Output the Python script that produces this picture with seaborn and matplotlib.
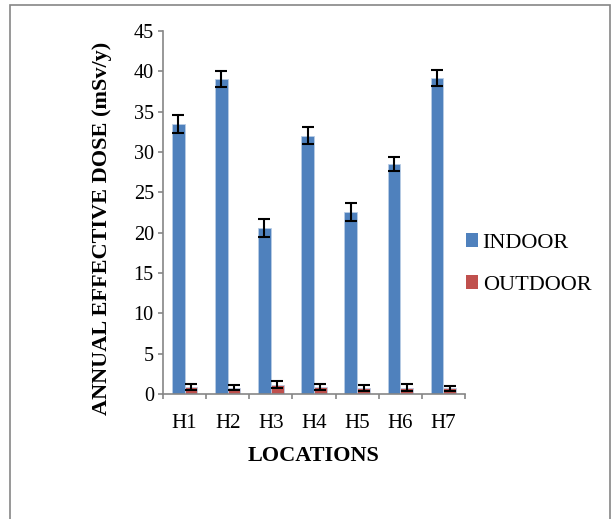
import matplotlib; matplotlib.use('Agg')
import pandas as pd
import numpy as np
import seaborn as sns
import matplotlib.pyplot as plt
from matplotlib.patches import Rectangle, Patch

# values
locations = ['H1', 'H2', 'H3', 'H4', 'H5', 'H6', 'H7']
indoor = [33.5, 39.0, 20.6, 32.0, 22.6, 28.5, 39.2]
indoor_err = [1.1, 1.0, 1.1, 1.05, 1.1, 0.9, 1.0]
outdoor = [0.85, 0.8, 1.15, 0.9, 0.75, 0.8, 0.7]
outdoor_err = [0.4, 0.35, 0.45, 0.4, 0.4, 0.4, 0.35]
series = ['INDOOR', 'OUTDOOR']
colors = ['#4F81BD', '#C0504D']

df = pd.DataFrame({
    'location': locations * 2,
    'dose': indoor + outdoor,
    'err': indoor_err + outdoor_err,
    'kind': ['INDOOR'] * len(locations) + ['OUTDOOR'] * len(locations),
})

sns.set_style('white')
plt.rcParams['font.family'] = ['Liberation Serif', 'DejaVu Serif']
plt.rcParams['text.color'] = 'black'
plt.rcParams['axes.labelcolor'] = 'black'
plt.rcParams['xtick.labelcolor'] = 'black'
plt.rcParams['ytick.labelcolor'] = 'black'

fig = plt.figure(figsize=(6.13, 5.19), dpi=100)
ax = fig.add_axes([163 / 613, 1 - 394 / 519, 302 / 613, 363 / 519])

sns.barplot(data=df, x='location', y='dose', hue='kind', order=locations,
            hue_order=series, palette=colors, width=0.59, gap=0,
            errorbar=None, saturation=1, legend=False, ax=ax,
            edgecolor='#B9CDE5', linewidth=0.6)

# error bars on top of each bar
for cont, kind in zip(ax.containers, series):
    sub = df[df['kind'] == kind]
    xs = [b.get_x() + b.get_width() / 2 for b in cont]
    ax.errorbar(xs, sub['dose'].values, yerr=sub['err'].values, fmt='none',
                ecolor='black', elinewidth=1.5, capsize=4.3, capthick=1.5, zorder=5)

ax.set_ylim(0, 45)
ax.set_yticks(np.arange(0, 46, 5))
ax.set_xlim(-0.5, len(locations) - 0.5)
ax.set_xticks(np.arange(-0.5, len(locations), 1), minor=True)

for s in ['top', 'right']:
    ax.spines[s].set_visible(False)
for s in ['left', 'bottom']:
    ax.spines[s].set_color('#868686')
    ax.spines[s].set_linewidth(1.2)

ax.tick_params(axis='y', which='major', direction='out', length=3.6, width=1.2,
               color='#868686', labelsize=14.5, pad=3, left=True)
ax.tick_params(axis='x', which='major', length=0, labelsize=15, pad=14.5)
ax.tick_params(axis='x', which='minor', direction='out', length=3.6, width=1.2,
               color='#868686', bottom=True)

ax.set_xlabel('LOCATIONS', fontsize=16, fontweight='bold', labelpad=9.5)
ax.set_ylabel('ANNUAL EFFECTIVE DOSE (mSv/y)', fontsize=16, fontweight='bold')
ax.yaxis.set_label_coords(-0.17, 0.455)

handles = [Patch(facecolor=c, edgecolor='none') for c in colors]
fig.legend(handles, series, loc='center left', bbox_to_anchor=(466 / 613, 1 - 264 / 519),
           frameon=False, fontsize=16, handlelength=0.55, handleheight=0.55,
           handletextpad=0.2, labelspacing=1.0, borderpad=0, borderaxespad=0)

# outer chart frame
fig.patches.append(Rectangle((10 / 613, -0.01), 600 / 613, 1.01 - 5 / 519,
                             transform=fig.transFigure, fill=False,
                             edgecolor='#868686', linewidth=1.2))

fig.savefig('out.png', dpi=100)
